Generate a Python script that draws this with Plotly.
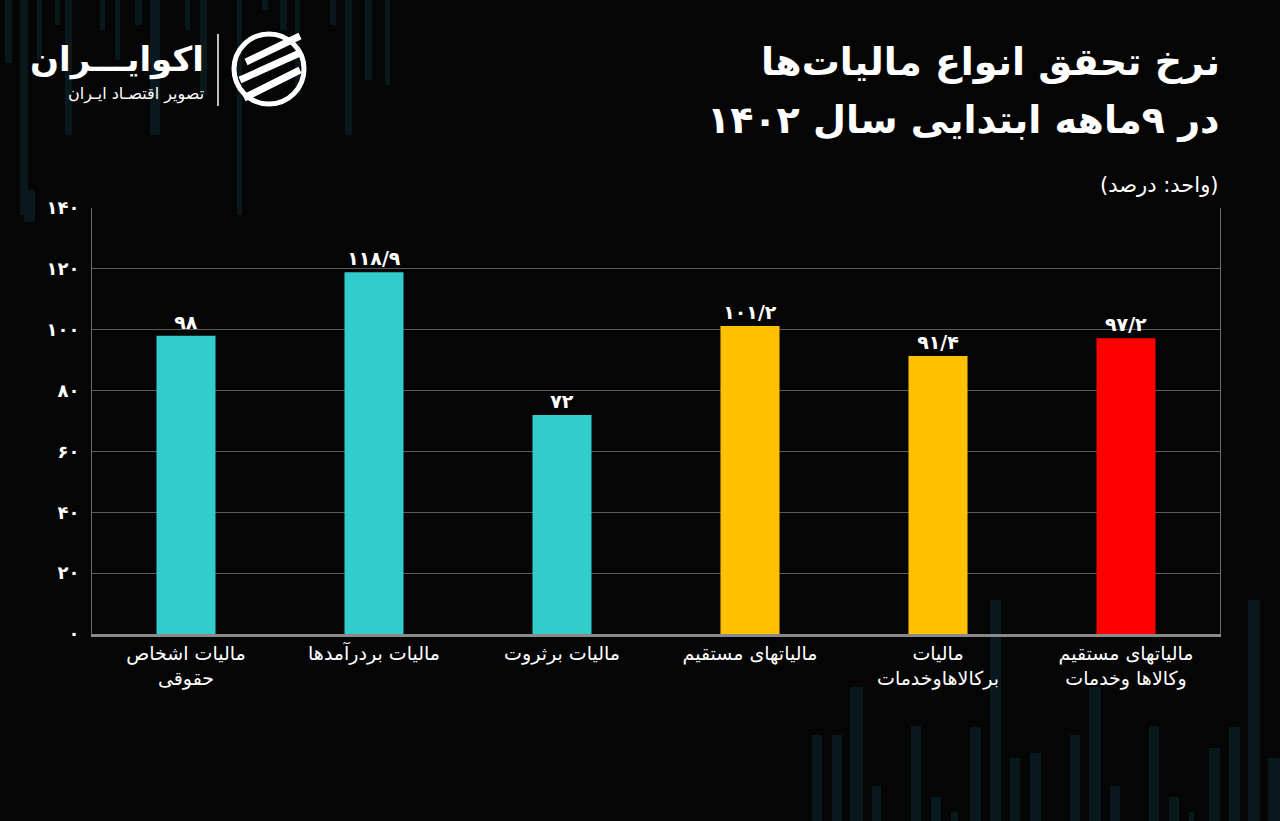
import plotly.graph_objects as go

# ---------------- data ----------------
categories = [
    "مالیات اشخاص<br>حقوقی",
    "مالیات بردرآمدها",
    "مالیات برثروت",
    "مالیاتهای مستقیم",
    "مالیات<br>برکالاهاوخدمات",
    "مالیاتهای مستقیم<br>وکالاها وخدمات",
]
values = [98, 118.9, 72, 101.2, 91.4, 97.2]
value_labels = ["۹۸", "۱۱۸/۹", "۷۲", "۱۰۱/۲", "۹۱/۴", "۹۷/۲"]
bar_colors = ["#33CCCC", "#33CCCC", "#33CCCC", "#FFC000", "#FFC000", "#FF0000"]
tick_values = [0, 20, 40, 60, 80, 100, 120, 140]
tick_labels = ["۰", "۲۰", "۴۰", "۶۰", "۸۰", "۱۰۰", "۱۲۰", "۱۴۰"]

title_line1 = "نرخ تحقق انواع مالیات‌ها"
title_line2 = "در ۹ماهه ابتدایی سال ۱۴۰۲"
unit_text = "(واحد: درصد)"
brand_text = "اکوایـــران"
brand_sub = "تصویر اقتصـاد ایـران"

# decorative background stripes (pixel positions: x_left, x_right, y_top, y_bottom)
deco_top = [
    (5, 12, 0, 63), (20, 28, 0, 215), (37, 42, 0, 60), (55, 60, 0, 25),
    (65, 72, 0, 135), (100, 105, 0, 30), (115, 120, 0, 60), (135, 142, 0, 25),
    (150, 160, 0, 135), (185, 190, 0, 30), (200, 207, 0, 95), (237, 242, 0, 215),
    (262, 268, 0, 10), (280, 287, 0, 30), (295, 300, 0, 95), (330, 336, 0, 25),
    (345, 352, 0, 135), (365, 372, 0, 80), (385, 390, 0, 85), (24, 35, 190, 222),
]
deco_bottom = [
    (812, 822, 735, 821), (832, 842, 735, 821), (850, 863, 687, 821), (872, 881, 786, 821),
    (911, 921, 726, 821), (931, 941, 797, 821), (951, 958, 812, 821), (970, 981, 727, 821),
    (990, 1001, 600, 821), (1010, 1020, 758, 821), (1030, 1041, 753, 821), (1070, 1080, 735, 821),
    (1089, 1101, 687, 821), (1110, 1120, 786, 821), (1149, 1159, 726, 821), (1169, 1179, 797, 821),
    (1189, 1194, 812, 821), (1209, 1220, 748, 821), (1229, 1240, 727, 821), (1248, 1260, 600, 821),
    (1268, 1280, 758, 821),
]

# ---------------- layout geometry ----------------
W, H = 1280, 821
ML, MR, MT, MB = 92, 60, 208, 187
PW, PH = W - ML - MR, H - MT - MB


def px(x):
    return (x - ML) / PW


def py(y):
    return 1 - (y - MT) / PH


FONT = "DejaVu Sans"

fig = go.Figure()
fig.add_trace(go.Bar(
    x=categories,
    y=values,
    marker=dict(color=bar_colors, line=dict(width=0)),
    text=["<b>" + t + "</b>" for t in value_labels],
    textposition="outside",
    textfont=dict(color="white", size=19, family=FONT),
    cliponaxis=False,
    hoverinfo="skip",
))

shapes = []
for (x0, x1, y0, y1) in deco_top + deco_bottom:
    shapes.append(dict(
        type="rect", xref="paper", yref="paper",
        x0=px(x0), x1=px(x1), y0=py(y1), y1=py(y0),
        fillcolor="#08181d", line=dict(width=0), layer="below",
    ))

# logo separator line
shapes.append(dict(type="line", xref="paper", yref="paper",
                   x0=px(218), x1=px(218), y0=py(34), y1=py(106),
                   line=dict(color="white", width=1.5)))
# logo icon: circle plus diagonal stripes
shapes.append(dict(type="circle", xref="paper", yref="paper",
                   x0=px(234), x1=px(304), y0=py(104), y1=py(34),
                   line=dict(color="white", width=5)))
for (ax, ay, bx, by) in [(246, 62, 300, 36), (240, 80, 302, 52), (244, 98, 300, 70)]:
    shapes.append(dict(type="line", xref="paper", yref="paper",
                       x0=px(ax), x1=px(bx), y0=py(ay), y1=py(by),
                       line=dict(color="white", width=7)))

annotations = [
    dict(text="<b>" + title_line1 + "</b>", x=px(1222), y=py(62), xref="paper", yref="paper",
         xanchor="right", yanchor="middle", showarrow=False,
         font=dict(color="white", size=38, family=FONT)),
    dict(text="<b>" + title_line2 + "</b>", x=px(1222), y=py(120), xref="paper", yref="paper",
         xanchor="right", yanchor="middle", showarrow=False,
         font=dict(color="white", size=38, family=FONT)),
    dict(text=unit_text, x=px(1220), y=py(185), xref="paper", yref="paper",
         xanchor="right", yanchor="middle", showarrow=False,
         font=dict(color="white", size=21, family=FONT)),
    dict(text="<b>" + brand_text + "</b>", x=px(206), y=py(60), xref="paper", yref="paper",
         xanchor="right", yanchor="middle", showarrow=False,
         font=dict(color="white", size=34, family=FONT)),
    dict(text=brand_sub, x=px(206), y=py(94), xref="paper", yref="paper",
         xanchor="right", yanchor="middle", showarrow=False,
         font=dict(color="white", size=16, family=FONT)),
]

fig.update_layout(
    width=W, height=H,
    margin=dict(l=ML, r=MR, t=MT, b=MB, pad=0),
    paper_bgcolor="#050505",
    plot_bgcolor="rgba(0,0,0,0)",
    showlegend=False,
    bargap=0.686,
    font=dict(family=FONT, color="white"),
    shapes=shapes,
    annotations=annotations,
    xaxis=dict(
        showgrid=False,
        showline=True, linecolor="#8a8a8a", linewidth=3,
        tickfont=dict(color="white", size=19, family=FONT),
        ticks="", fixedrange=True,
    ),
    yaxis=dict(
        range=[0, 140],
        tickvals=tick_values, ticktext=["<b>" + t + "</b>" for t in tick_labels],
        tickfont=dict(color="white", size=18, family=FONT),
        showgrid=True, gridcolor="#5a5a5a", gridwidth=1,
        zeroline=False,
        showline=True, linecolor="#6a6a6a", linewidth=1, mirror=True,
        ticks="", ticklabelstandoff=8, fixedrange=True,
    ),
)

fig.write_html("out.html")
